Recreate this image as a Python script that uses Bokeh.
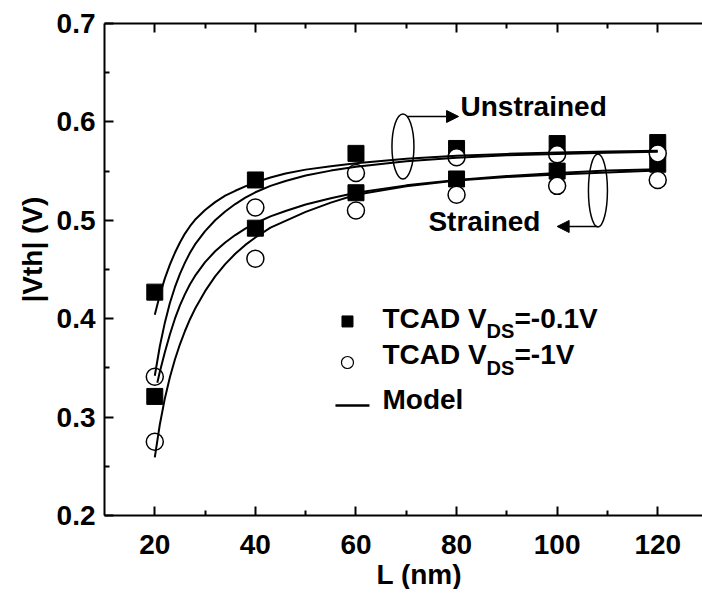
from bokeh.plotting import figure
from bokeh.embed import file_html
from bokeh.resources import INLINE
from bokeh.models import (Range1d, LinearAxis, FixedTicker, Arrow, NormalHead, CustomJSTickFormatter, Title)
from bokeh.core.properties import value

# ---- data ----
x_ticks = [20, 40, 60, 80, 100, 120]
x_minor = [30, 50, 70, 90, 110]
y_ticks = [0.2, 0.3, 0.4, 0.5, 0.6, 0.7]
y_minor = [0.25, 0.35, 0.45, 0.55, 0.65]

L_pts = [20, 40, 60, 80, 100, 120]
unstr_vds01 = [0.427, 0.541, 0.568, 0.573, 0.578, 0.579]
unstr_vds1 = [0.341, 0.513, 0.548, 0.564, 0.567, 0.568]
str_vds01 = [0.321, 0.492, 0.528, 0.542, 0.550, 0.557]
str_vds1 = [0.275, 0.461, 0.510, 0.526, 0.535, 0.541]

mU1_L = [20, 21, 22, 23, 24, 25, 26, 27, 28, 30, 32, 34, 36, 38, 40, 43, 46, 50, 55, 60, 70, 80, 90, 100, 110, 120]
mU1_V = [0.404, 0.424, 0.441, 0.455, 0.467, 0.4775, 0.4865, 0.494, 0.5005, 0.5105, 0.5185, 0.525, 0.530,
         0.5345, 0.5385, 0.5435, 0.5475, 0.5515, 0.555, 0.558, 0.5625, 0.5655, 0.5675, 0.569, 0.570, 0.5708]
mU2_L = [20, 21, 22, 23, 24, 25, 26, 27, 28, 30, 32, 34, 36, 38, 40, 43, 46, 50, 55, 60, 70, 80, 90, 100, 110, 120]
mU2_V = [0.342, 0.372, 0.396, 0.416, 0.432, 0.4455, 0.457, 0.467, 0.4755, 0.489, 0.500, 0.509, 0.5165,
         0.523, 0.5285, 0.535, 0.540, 0.5455, 0.5505, 0.5545, 0.560, 0.5635, 0.566, 0.5675, 0.5687, 0.5697]
mS1_L = [20.5, 21, 22, 23, 24, 25, 26, 27, 28, 30, 32, 34, 36, 38, 40, 43, 46, 50, 55, 60, 70, 80, 90, 100, 110, 120]
mS1_V = [0.335, 0.346, 0.366, 0.384, 0.400, 0.4135, 0.425, 0.435, 0.4435, 0.4575, 0.4685, 0.4775, 0.485,
         0.4915, 0.497, 0.504, 0.5095, 0.516, 0.5225, 0.528, 0.5355, 0.541, 0.545, 0.548, 0.5505, 0.552]
mS2_L = [20, 21, 22, 23, 24, 25, 26, 27, 28, 30, 32, 34, 36, 38, 40, 43, 46, 50, 55, 60, 70, 80, 90, 100, 110, 120]
mS2_V = [0.259, 0.2925, 0.319, 0.3405, 0.3585, 0.374, 0.3875, 0.3995, 0.410, 0.428, 0.443, 0.4555, 0.466,
         0.475, 0.4825, 0.4925, 0.4995, 0.5085, 0.518, 0.526, 0.5345, 0.5405, 0.544, 0.5465, 0.5485, 0.5505]

FONT = "Liberation Sans"

p = figure(frame_width=598, frame_height=492,
           min_border_left=104, min_border_right=0, min_border_top=23, min_border_bottom=10,
           x_range=Range1d(10, 128.9), y_range=Range1d(0.2, 0.7),
           output_backend="svg", toolbar_location=None)
p.outline_line_color = None
p.xgrid.visible = False
p.ygrid.visible = False
p.background_fill_color = "white"
p.border_fill_color = "white"

p.xaxis.ticker = FixedTicker(ticks=x_ticks, minor_ticks=x_minor)
p.yaxis.ticker = FixedTicker(ticks=y_ticks, minor_ticks=y_minor)
p.yaxis.major_label_overrides = {t: f"{t:.1f}" for t in y_ticks}

for ax in p.xaxis + p.yaxis:
    ax.axis_line_width = 2
    ax.major_tick_line_width = 2
    ax.minor_tick_line_width = 2
    ax.major_tick_in = 9
    ax.major_tick_out = 0
    ax.minor_tick_in = 5
    ax.minor_tick_out = 0
    ax.major_label_text_font = FONT
    ax.major_label_text_font_style = "bold"
    ax.major_label_text_font_size = "28px"
    ax.major_label_text_color = "black"

p.xaxis.major_label_standoff = 19
p.yaxis.major_label_standoff = 9

top = LinearAxis(ticker=FixedTicker(ticks=x_ticks, minor_ticks=x_minor),
                 formatter=CustomJSTickFormatter(code="return ''"))
top.axis_line_width = 2
top.major_tick_line_width = 2
top.minor_tick_line_width = 2
top.major_tick_in = 9
top.major_tick_out = 0
top.minor_tick_in = 5
top.minor_tick_out = 0
top.major_label_standoff = 0
p.add_layout(top, "above")

# axis titles (placed as in the reference, slightly off the frame centre)
p.add_layout(Title(text="L (nm)", align="left", offset=272, standoff=0, text_font=FONT,
                   text_font_style="bold", text_font_size="28px", text_color="black"), "below")
p.add_layout(Title(text="|Vth| (V)", align="left", offset=213, standoff=12, text_font=FONT,
                   text_font_style="bold", text_font_size="28px", text_color="black"), "left")

# TCAD points
for vals in (unstr_vds01, str_vds01):
    p.scatter(L_pts, vals, marker="square", size=16, fill_color="black", line_color="black")
for vals in (unstr_vds1, str_vds1):
    p.scatter(L_pts, vals, marker="circle", size=17, fill_color="white", line_color="black", line_width=1.5)

# model lines
for lx, ly in ((mU1_L, mU1_V), (mU2_L, mU2_V), (mS1_L, mS1_V), (mS2_L, mS2_V)):
    p.line(lx, ly, line_color="black", line_width=2)

# annotations: ellipses, arrows and labels
p.ellipse(x=[69.34], y=[0.575], width=22, height=65, width_units="screen", height_units="screen",
          fill_color=None, line_color="black", line_width=1.5)
p.ellipse(x=[108.11], y=[0.5303], width=19, height=73, width_units="screen", height_units="screen",
          fill_color=None, line_color="black", line_width=1.5)
p.add_layout(Arrow(end=NormalHead(size=12, fill_color="black", line_color="black"),
                   x_start=70.2, y_start=0.6055, x_end=80.4, y_end=0.6055,
                   line_color="black", line_width=1.5))
p.add_layout(Arrow(end=NormalHead(size=12, fill_color="black", line_color="black"),
                   x_start=108.0, y_start=0.4937, x_end=100.0, y_end=0.4937,
                   line_color="black", line_width=1.5))
p.text(x=[80.78], y=[0.6157], text=["Unstrained"], text_font=value(FONT), text_font_style="bold",
       text_font_size="28px", text_baseline="middle", text_align="left", text_color="black")
p.text(x=[74.41], y=[0.4988], text=["Strained"], text_font=value(FONT), text_font_style="bold",
       text_font_size="28px", text_baseline="middle", text_align="left", text_color="black")

# legend (drawn manually for the subscript)
p.scatter([58.31], [0.3972], marker="square", size=11, fill_color="black", line_color="black")
p.scatter([58.31], [0.3555], marker="circle", size=12, fill_color="white", line_color="black", line_width=1.2)
p.line([55.92, 62.68], [0.3118, 0.3118], line_color="black", line_width=2.5)

tx = 65.27
rows = [(0.4007, 0.387, "=-0.1V"), (0.3636, 0.3494, "=-1V")]
for yc, ys, tail in rows:
    p.text(x=[tx], y=[yc], text=["TCAD V"], text_font=value(FONT), text_font_style="bold",
           text_font_size="28px", text_baseline="middle", text_align="left", text_color="black")
    p.text(x=[tx], y=[ys], x_offset=104, text=["DS"], text_font=value(FONT), text_font_style="bold",
           text_font_size="20px", text_baseline="middle", text_align="left", text_color="black")
    p.text(x=[tx], y=[yc], x_offset=132, text=[tail], text_font=value(FONT), text_font_style="bold",
           text_font_size="28px", text_baseline="middle", text_align="left", text_color="black")
p.text(x=[tx], y=[0.3179], text=["Model"], text_font=value(FONT), text_font_style="bold",
       text_font_size="28px", text_baseline="middle", text_align="left", text_color="black")

open("out.html", "w").write(file_html(p, INLINE))
